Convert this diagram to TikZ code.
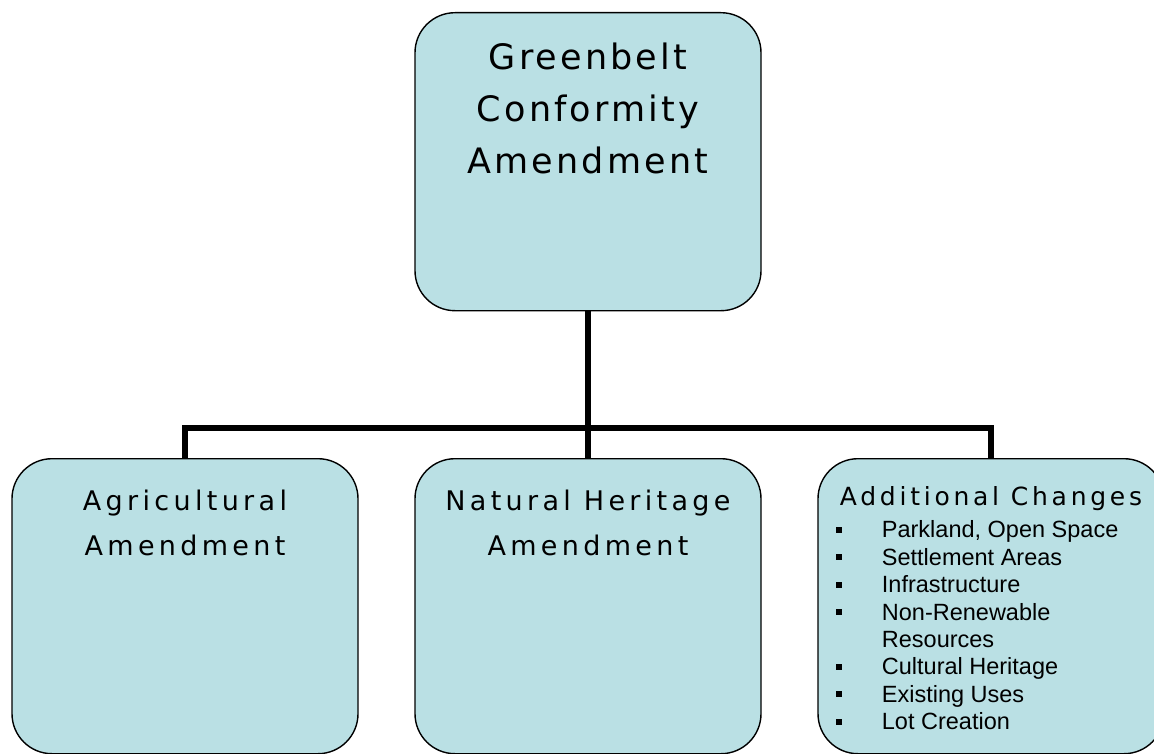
\documentclass[tikz,border=0pt]{standalone}
\usepackage{fontspec}
\setmainfont{Liberation Sans}
\newfontfamily\titlefont[LetterSpace=9]{DejaVu Sans}
\newfontfamily\boxfont[LetterSpace=16]{DejaVu Sans}
\newfontfamily\headfont[LetterSpace=15]{DejaVu Sans}
\usetikzlibrary{positioning}
\definecolor{boxfill}{RGB}{186,224,228}
\newcommand{\bulletitem}[1]{\hspace*{-4pt}\makebox[46pt][l]{\rule[5pt]{6pt}{6pt}}#1}
\newcommand{\moreitem}[1]{\hspace*{42pt}#1}

\begin{document}
\begin{tikzpicture}[x=1pt,y=-1pt,
    box/.style={draw=black,line width=1.4pt,fill=boxfill,rounded corners=40pt,
      minimum width=346pt,inner sep=0pt,anchor=north,align=center},
    link/.style={line width=5.5pt}]
  \clip (0,0) rectangle (1154,754);
  \useasboundingbox (0,0) rectangle (1154,754);
  % top box
  \node[box,text height=161pt,text depth=137pt,font=\titlefont\fontsize{35}{52}\selectfont] (gca) at (588,12) {Greenbelt\\Conformity\\Amendment};
  % the three boxes below
  \node[box,text height=97pt,text depth=198pt,font=\boxfont\fontsize{27}{45}\selectfont] (agri) at (185,458) {Agricultural\\Amendment};
  \node[box,text height=97pt,text depth=198pt,font=\boxfont\fontsize{27}{45}\selectfont] (natural) at (588,458) {Natural Heritage\\Amendment};
  \node[box,text height=271pt,text depth=24pt,align=left,font=\fontsize{23.5}{27.4}\selectfont] (additional) at (991,458) {%
    {\headfont\fontsize{25}{27.4}\selectfont Additional Changes}\\[4.6pt]
    \bulletitem{Parkland, Open Space}\\
    \bulletitem{Settlement Areas}\\
    \bulletitem{Infrastructure}\\
    \bulletitem{Non-Renewable}\\
    \moreitem{Resources}\\
    \bulletitem{Cultural Heritage}\\
    \bulletitem{Existing Uses}\\
    \bulletitem{Lot Creation}};
  % connectors
  \coordinate (bar) at (588,428);
  \draw[link] (gca.south) -- (bar);
  \draw[link] (agri.north) |- (bar) -| (additional.north);
  \draw[link] (bar) -- (natural.north);
\end{tikzpicture}
\end{document}
